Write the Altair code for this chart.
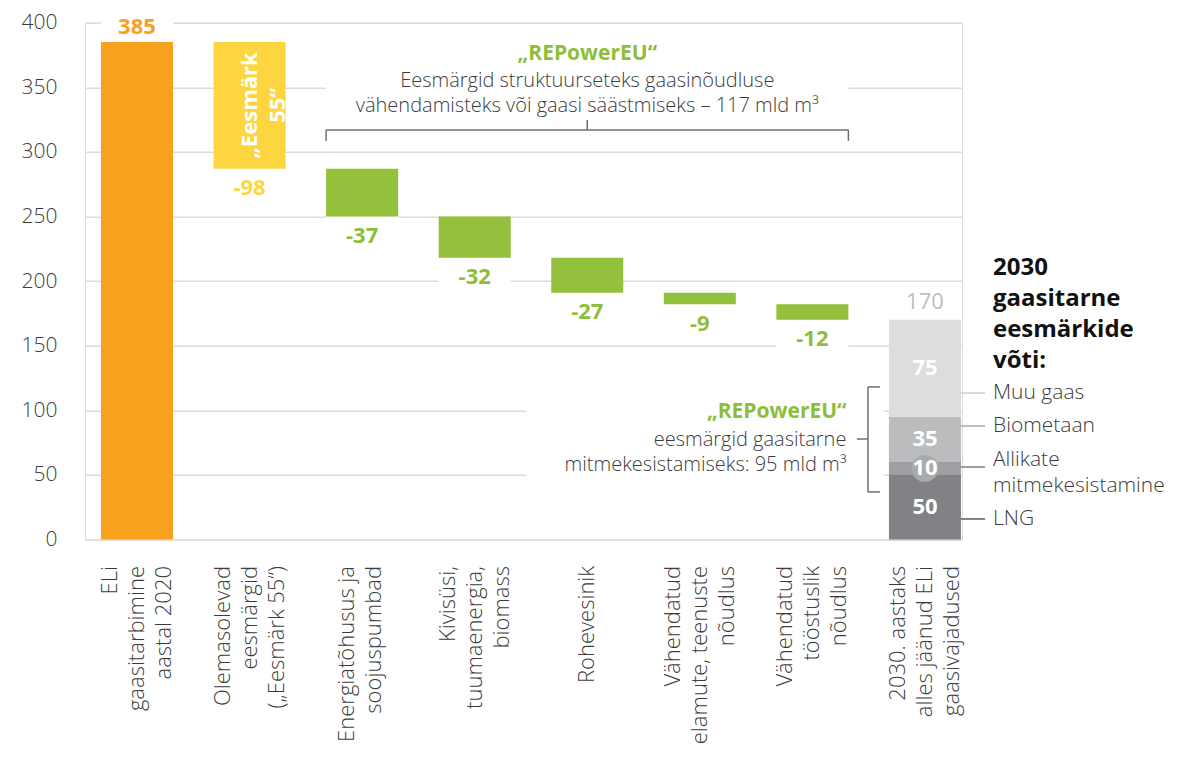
import altair as alt
import pandas as pd

# ---------------- data ----------------
categories = [
    "ELi|gaasitarbimine|aastal 2020",
    "Olemasolevad|eesmärgid|(„Eesmärk 55“)",
    "Energiatõhusus ja|soojuspumbad",
    "Kivisüsi,|tuumaenergia,|biomass",
    "Rohevesinik",
    "Vähendatud|elamute, teenuste|nõudlus",
    "Vähendatud|tööstuslik|nõudlus",
    "2030. aastaks|alles jäänud ELi|gaasivajadused",
]
steps = [385, -98, -37, -32, -27, -9, -12]
step_labels = ["385", "-98", "-37", "-32", "-27", "-9", "-12"]
step_colors = ["#F7A11F", "#FDD540", "#94C13B", "#94C13B", "#94C13B", "#94C13B", "#94C13B"]
label_colors = ["#F7A11F", "#FDD540", "#8DBE3A", "#8DBE3A", "#8DBE3A", "#8DBE3A", "#8DBE3A"]

supply_names = ["LNG", "Allikate mitmekesistamine", "Biometaan", "Muu gaas"]
supply_values = [50, 10, 35, 75]
supply_colors = ["#808285", "#9D9FA2", "#BBBCBE", "#DCDDDE"]
supply_total = 170

eesmark_text = ["„Eesmärk", "55“"]
top_note_title = "„REPowerEU“"
top_note_lines = ["Eesmärgid struktuurseteks gaasinõudluse",
                  "vähendamisteks või gaasi säästmiseks – 117 mld m³"]
right_note_title = "„REPowerEU“"
right_note_lines = ["eesmärgid gaasitarne", "mitmekesistamiseks: 95 mld m³"]
key_title = ["2030", "gaasitarne", "eesmärkide", "võti:"]
key_items = ["Muu gaas", "Biometaan", "Allikate", "mitmekesistamine", "LNG"]

# annotation anchors (in chart value units)
top_note_y = [376.0, 354.9, 335.5]
top_bracket_y = [317.0, 308.5, 324.7]
right_note_y = [98.5, 77.0, 57.7]
right_bracket_y = [118.1, 36.8, 77.8]
key_title_y = [210.1, 186.1, 162.2, 138.2]
key_item_y = [113.4, 87.9, 61.5, 41.4, 15.9]
key_line_y = [113.4, 87.9, 56.1, 15.9]
key_line_colors = ["#D9DADB", "#BBBCBE", "#9D9FA2", "#808285"]

FONT = "Open Sans"
TXT = "#3C3C3C"
GRID = "#DCDCDC"
BRK = "#6D6E71"

# ---------------- derived tables ----------------
wf_rows = []
level = 0
for c, d, lab, col, lcol in zip(categories[:7], steps, step_labels, step_colors, label_colors):
    start, end = level, level + d
    pos = d > 0
    wf_rows.append(dict(cat=c, y0=start, y1=end, label=lab, color=col, lcolor=lcol,
                        m0=end, m1=end + 28 if pos else end - 28, up=pos))
    level = end
wf = pd.DataFrame(wf_rows)

st_rows = []
b = 0
for n, v, col in zip(supply_names, supply_values, supply_colors):
    st_rows.append(dict(cat=categories[7], y0=b, y1=b + v, mid=b + v / 2, label=str(v), color=col, name=n))
    b += v
st = pd.DataFrame(st_rows)

# ---------------- scales / axes ----------------
LINE_H = 27
label_offset = {
    "condition": [
        {"test": "length(split(datum.label, '|')) == 3", "value": -LINE_H},
        {"test": "length(split(datum.label, '|')) == 2", "value": -LINE_H / 2 - 2},
    ],
    "value": 0,
}
xaxis = alt.Axis(labelExpr="split(datum.label, '|')", labelAngle=270, labelAlign="right",
                 labelBaseline="middle", labelLineHeight=LINE_H, labelFontSize=22, labelPadding=26,
                 labelOffset=label_offset,
                 domain=False, ticks=False, grid=False, labelFont=FONT, labelFontWeight=300,
                 labelColor=TXT, labelLimit=0, title=None)
yaxis = alt.Axis(values=list(range(0, 401, 50)), grid=True, gridColor=GRID, gridWidth=1.5,
                 domain=False, ticks=False, labelFontSize=21, labelColor=TXT, labelPadding=28,
                 labelFont=FONT, labelFontWeight=300, title=None)
xscale = alt.Scale(domain=categories, paddingInner=0.36, paddingOuter=0.0755, align=0.94)
yscale = alt.Scale(domain=[0, 400], nice=False, zero=True)


def X(bp=None):
    kw = dict(sort=categories, scale=xscale, axis=xaxis, title=None)
    if bp is not None:
        kw["bandPosition"] = bp
    return alt.X("cat:N", **kw)


def X2(bp=None):
    kw = {}
    if bp is not None:
        kw["bandPosition"] = bp
    return alt.X2("cat2:N", **kw)


def Y(f):
    return alt.Y(f"{f}:Q", scale=yscale, axis=yaxis, title=None)


def txt(**kw):
    base = dict(font=FONT, fontSize=20)
    base.update(kw)
    return base


layers = []

# masks behind labels (hide gridlines)
layers.append(alt.Chart(wf).mark_bar(color="white").encode(x=X(), y=Y("m0"), y2=alt.Y2("m1")))
layers.append(alt.Chart(pd.DataFrame([dict(cat=categories[2], cat2=categories[6], y0=338, y1=362)]))
              .mark_rect(color="white").encode(x=X(0), x2=X2(1), y=Y("y0"), y2=alt.Y2("y1")))
layers.append(alt.Chart(pd.DataFrame([dict(cat=categories[4], cat2=categories[7], y0=45, y1=106)]))
              .mark_rect(color="white", xOffset=-25, x2Offset=-5)
              .encode(x=X(0), x2=X2(0), y=Y("y0"), y2=alt.Y2("y1")))

# bars
layers.append(alt.Chart(wf).mark_bar().encode(
    x=X(), y=Y("y0"), y2=alt.Y2("y1"), color=alt.Color("color:N", scale=None)))
layers.append(alt.Chart(st).mark_bar().encode(
    x=X(), y=Y("y0"), y2=alt.Y2("y1"), color=alt.Color("color:N", scale=None)))

# circle behind "10"
layers.append(alt.Chart(st[st["label"] == "10"]).mark_point(
    filled=True, shape="circle", size=720, color="#A9AAAD", opacity=1).encode(x=X(), y=Y("mid")))

# value labels
layers.append(alt.Chart(wf[wf["up"]]).mark_text(**txt(fontWeight="bold", fontSize=22, baseline="middle", dy=-15))
              .encode(x=X(), y=Y("y1"), text="label:N", color=alt.Color("lcolor:N", scale=None)))
layers.append(alt.Chart(wf[~wf["up"]]).mark_text(**txt(fontWeight="bold", fontSize=22, baseline="middle", dy=19.5))
              .encode(x=X(), y=Y("y1"), text="label:N", color=alt.Color("lcolor:N", scale=None)))
layers.append(alt.Chart(pd.DataFrame([dict(cat=categories[7], y=supply_total, label=str(supply_total))]))
              .mark_text(**txt(fontSize=22, fontWeight=400, baseline="middle", dy=-18, color="#BCBDC0"))
              .encode(x=X(), y=Y("y"), text="label:N"))
layers.append(alt.Chart(st).mark_text(**txt(fontSize=22, fontWeight="bold", baseline="middle", color="white"))
              .encode(x=X(), y=Y("mid"), text="label:N"))

# "Eesmärk 55" label inside yellow bar
ees = wf.iloc[[1]].assign(mid=lambda d: (d["y0"] + d["y1"]) / 2)
layers.append(alt.Chart(ees).mark_text(**txt(fontSize=22, fontWeight="bold", color="white", angle=270,
                                             align="center", baseline="middle", lineHeight=28))
              .encode(x=X(), y=Y("mid"), text=alt.value(eesmark_text)))

# top annotation
layers.append(alt.Chart(pd.DataFrame([dict(cat=categories[4], y=top_note_y[0], t=top_note_title)]))
              .mark_text(**txt(fontSize=21, fontWeight="bold", color="#8DBE3A", baseline="middle"))
              .encode(x=X(), y=Y("y"), text="t:N"))
layers.append(alt.Chart(pd.DataFrame([dict(cat=categories[4], y=yy, t=t) for yy, t in zip(top_note_y[1:], top_note_lines)]))
              .mark_text(**txt(fontSize=20, fontWeight=300, color=TXT, baseline="middle"))
              .encode(x=X(), y=Y("y"), text="t:N"))
layers.append(alt.Chart(pd.DataFrame([dict(cat=categories[2], cat2=categories[6], y=top_bracket_y[0])]))
              .mark_rule(color=BRK, strokeWidth=1.5).encode(x=X(0), x2=X2(1), y=Y("y")))
layers.append(alt.Chart(pd.DataFrame([dict(cat=categories[2], y0=top_bracket_y[0], y1=top_bracket_y[1])]))
              .mark_rule(color=BRK, strokeWidth=1.5).encode(x=X(0), y=Y("y0"), y2=alt.Y2("y1")))
layers.append(alt.Chart(pd.DataFrame([dict(cat=categories[6], y0=top_bracket_y[0], y1=top_bracket_y[1])]))
              .mark_rule(color=BRK, strokeWidth=1.5).encode(x=X(1), y=Y("y0"), y2=alt.Y2("y1")))
layers.append(alt.Chart(pd.DataFrame([dict(cat=categories[4], y0=top_bracket_y[0], y1=top_bracket_y[2])]))
              .mark_rule(color=BRK, strokeWidth=1.5).encode(x=X(), y=Y("y0"), y2=alt.Y2("y1")))

# right annotation
layers.append(alt.Chart(pd.DataFrame([dict(cat=categories[6], y=right_note_y[0], t=right_note_title)]))
              .mark_text(**txt(fontSize=21, fontWeight="bold", color="#8DBE3A", baseline="middle", align="right", dx=-2))
              .encode(x=X(1), y=Y("y"), text="t:N"))
layers.append(alt.Chart(pd.DataFrame([dict(cat=categories[6], y=yy, t=t) for yy, t in zip(right_note_y[1:], right_note_lines)]))
              .mark_text(**txt(fontSize=20, fontWeight=300, color=TXT, baseline="middle", align="right", dx=-2))
              .encode(x=X(1), y=Y("y"), text="t:N"))
layers.append(alt.Chart(pd.DataFrame([dict(cat=categories[7], y0=right_bracket_y[0], y1=right_bracket_y[1])]))
              .mark_rule(color=BRK, strokeWidth=1.5, xOffset=-21).encode(x=X(0), y=Y("y0"), y2=alt.Y2("y1")))
layers.append(alt.Chart(pd.DataFrame([dict(cat=categories[7], cat2=categories[7], y=v) for v in right_bracket_y[:2]]))
              .mark_rule(color=BRK, strokeWidth=1.5, xOffset=-21, x2Offset=-9).encode(x=X(0), x2=X2(0), y=Y("y")))
layers.append(alt.Chart(pd.DataFrame([dict(cat=categories[7], cat2=categories[7], y=right_bracket_y[2])]))
              .mark_rule(color=BRK, strokeWidth=1.5, xOffset=-32, x2Offset=-21).encode(x=X(0), x2=X2(0), y=Y("y")))

# key (legend) on the right
layers.append(alt.Chart(pd.DataFrame([dict(cat=categories[7], y=yy, t=t) for yy, t in zip(key_title_y, key_title)]))
              .mark_text(**txt(fontSize=24, fontWeight="bold", color="#111111", baseline="middle", align="left", dx=32))
              .encode(x=X(1), y=Y("y"), text="t:N"))
layers.append(alt.Chart(pd.DataFrame([dict(cat=categories[7], y=yy, t=t) for yy, t in zip(key_item_y, key_items)]))
              .mark_text(**txt(fontSize=21, fontWeight=300, color=TXT, baseline="middle", align="left", dx=32))
              .encode(x=X(1), y=Y("y"), text="t:N"))
layers.append(alt.Chart(pd.DataFrame([dict(cat=categories[7], cat2=categories[7], y=yy, c=c)
                                      for yy, c in zip(key_line_y, key_line_colors)]))
              .mark_rule(strokeWidth=2, x2Offset=24)
              .encode(x=X(1), x2=X2(1), y=Y("y"), color=alt.Color("c:N", scale=None)))

chart = alt.layer(*layers).properties(
    width=877, height=516.8,
    autosize=alt.AutoSizeParams(type="none"),
    padding={"left": 77, "top": 14.7, "right": 228, "bottom": 210},
).configure_view(stroke=None).configure(background="white")

chart.save("out.html", embed_options={"renderer": "svg", "actions": False})
